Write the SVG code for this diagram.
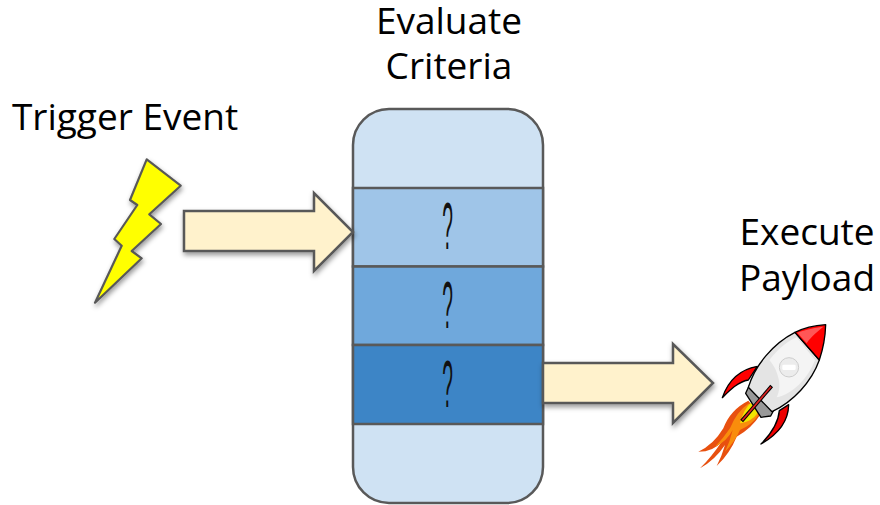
<svg xmlns="http://www.w3.org/2000/svg" width="880" height="505" viewBox="0 0 880 505">
<defs>
<style>
.lbl{font-family:"Open Sans",sans-serif;font-size:37px;fill:#000;text-anchor:middle}
.q{font-family:"Liberation Sans",sans-serif;font-size:40px;fill:#111;text-anchor:middle}
.box{stroke:#595959;stroke-width:2.500}
.arrow{fill:#fff2cc;stroke:#595959;stroke-width:2.500;stroke-linejoin:miter;filter:url(#sh)}
.blk{stroke:#000;stroke-width:4;stroke-linejoin:round}
</style>
<filter id="sh" x="-20%" y="-20%" width="140%" height="150%"><feDropShadow dx="1" dy="3" stdDeviation="2.500" flood-color="#000" flood-opacity=".4"/></filter>
</defs>
<rect width="880" height="505" fill="#fff"/>
<g id="stack">
<rect class="box" x="353" y="109" width="190" height="394" rx="36" ry="36" fill="#cfe2f3"/>
<rect class="box" x="353" y="188" width="190" height="78.500" fill="#9fc5e8"/>
<rect class="box" x="353" y="266.500" width="190" height="78.500" fill="#6fa8dc"/>
<rect class="box" x="353" y="345" width="190" height="79" fill="#3d85c6"/>
<text class="q" transform="translate(447.500,249) scale(.48,1.65)">?</text>
<text class="q" transform="translate(447.500,328) scale(.48,1.65)">?</text>
<text class="q" transform="translate(447.500,407) scale(.48,1.65)">?</text>
<text class="lbl" x="449" y="34">Evaluate</text>
<text class="lbl" x="449" y="79">Criteria</text>
</g>
<g id="connectors">
<path class="arrow" d="M184 211H314V193L353 232L314 271V251H184Z"/>
<path class="arrow" d="M543 363H673V344L713 383L673 423V403H543Z"/>
</g>
<g id="trigger">
<path d="M146.700 159.300L180.700 185.700L149.300 214.300L161 224L131.700 251L141.700 258.300L95 302.700L121.700 245.700L114.300 239L137.300 205L130 200Z" fill="#ff0" stroke="#595959" stroke-width="2.200" stroke-linejoin="round" filter="url(#sh)"/>
<text class="lbl" x="125" y="130">Trigger Event</text>
</g>
<g id="payload">
<text class="lbl" x="807" y="245">Execute</text>
<text class="lbl" x="807" y="291">Payload</text>
<g transform="translate(680,310) scale(.33333)">
<path d="M205 272Q150 300 130 355Q100 405 55 425Q100 425 125 395Q95 440 60 475Q105 450 135 405Q125 440 110 468Q150 430 170 380Q215 355 240 315Z" fill="#e8500f"/>
<path d="M207 280Q170 305 150 355Q130 385 105 410Q140 395 158 360Q150 395 135 425Q165 395 180 360Q215 345 236 315Z" fill="#f98d0c"/>
<path d="M213 278Q192 295 180 340Q215 335 234 308Z" fill="#f2e600"/>
<path class="blk" d="M127 263C140 225 170 180 232 169L205 210C175 215 150 240 127 263Z" fill="#f00"/>
<path class="blk" d="M243 402C290 375 325 340 326 284L298 302C295 340 270 375 243 402Z" fill="#e00"/>
<path class="blk" d="M207 228L197 250L243 322L272 318L280 303Z" fill="#999"/>
<path class="blk" d="M345 67C280 100 225 165 205 232L276 305C340 275 395 215 418 150Z" fill="#e4e4e4"/>
<path d="M268 150C300 110 330 90 350 82L405 150C385 205 335 255 290 262C310 225 290 175 268 150Z" fill="#f4f4f4"/>
<path class="blk" d="M345 67C375 52 410 46 437 44C436 80 428 120 418 150Z" fill="#f00"/>
<path d="M352 68C380 58 410 52 430 50C405 70 385 90 380 100Z" fill="#ff7a7a" opacity=".7"/>
<circle cx="327" cy="172" r="29" fill="#ececec" stroke="#ccc" stroke-width="3"/>
<rect x="307" y="164" width="40" height="16" rx="4" fill="#fff"/>
<path d="M185 333L275 228" stroke="#000" stroke-width="11"/>
<path d="M187 331L273 230" stroke="#d22" stroke-width="5"/>
</g>
</g>
</svg>
